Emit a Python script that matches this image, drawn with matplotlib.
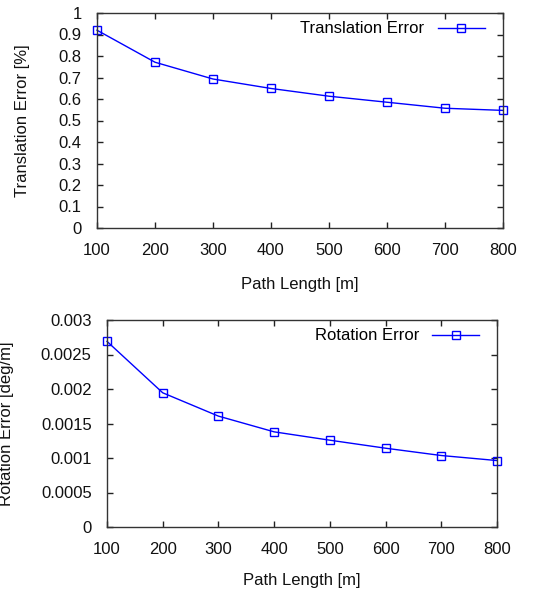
import matplotlib
matplotlib.use("Agg")
import matplotlib.pyplot as plt

path_length = [100, 200, 300, 400, 500, 600, 700, 800]
translation_error = [0.92, 0.771, 0.693, 0.649, 0.613, 0.585, 0.557, 0.547]
rotation_error = [0.00269, 0.001945, 0.001607, 0.001379, 0.001258, 0.001142, 0.001036, 0.000963]
t_yticks = [0, 0.1, 0.2, 0.3, 0.4, 0.5, 0.6, 0.7, 0.8, 0.9, 1]
t_ylabels = ["0", "0.1", "0.2", "0.3", "0.4", "0.5", "0.6", "0.7", "0.8", "0.9", "1"]
r_yticks = [0, 0.0005, 0.001, 0.0015, 0.002, 0.0025, 0.003]
r_ylabels = ["0", "0.0005", "0.001", "0.0015", "0.002", "0.0025", "0.003"]

plt.rcParams['font.family'] = ['Liberation Sans', 'DejaVu Sans']
plt.rcParams['font.size'] = 12

W, H = 553, 592
fig = plt.figure(figsize=(W/100, H/100), dpi=100)

def px_axes(l, t, r, b):
    return fig.add_axes([l/W, 1 - b/H, (r-l)/W, (b-t)/H])

ax1 = px_axes(97, 13, 503, 228)
ax2 = px_axes(107, 320, 497, 527)

def style(ax, y, yt, yl, ylim, label, ylabel, ylx, xly):
    ax.plot(path_length, y, color='#0000ff', lw=1.0, marker='s', ms=6,
            mfc='none', mec='#0000ff', mew=1.0, label=label, clip_on=False)
    ax.set_xlim(100, 800)
    ax.set_ylim(*ylim)
    ax.set_xticks(path_length)
    ax.set_yticks(yt)
    ax.set_yticklabels(yl)
    ax.tick_params(direction='in', length=4, width=1, top=True, right=True,
                   colors='#222222', labelcolor='#111111', labelsize=12)
    ax.tick_params(axis='x', pad=11)
    ax.tick_params(axis='y', pad=11)
    for s in ax.spines.values():
        s.set_color('#333333')
        s.set_linewidth(1)
    ax.set_xlabel('Path Length [m]', fontsize=12, color='#111111')
    ax.set_ylabel(ylabel, fontsize=12, color='#111111')
    ax.yaxis.set_label_coords(ylx, 0.5)
    ax.xaxis.set_label_coords(0.5, xly)
    ax.legend(loc='upper right', frameon=False, markerfirst=False,
              handlelength=2.8, fontsize=12, borderaxespad=0.1,
              bbox_to_anchor=(0.975, 1.0))

style(ax1, translation_error, t_yticks, t_ylabels, (0, 1), 'Translation Error',
      'Translation Error [%]', -0.165, -0.228)
style(ax2, rotation_error, r_yticks, r_ylabels, (0, 0.003), 'Rotation Error',
      'Rotation Error [deg/m]', -0.238, -0.222)

fig.savefig('out.png', dpi=100)
